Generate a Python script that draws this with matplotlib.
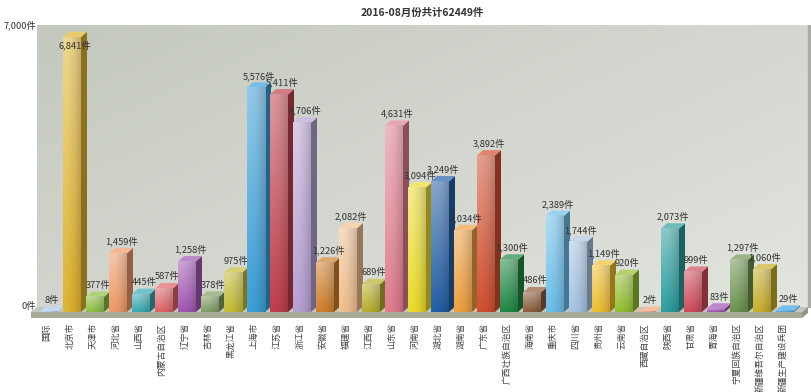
import numpy as np
import matplotlib
matplotlib.use('Agg')
import matplotlib.pyplot as plt
from matplotlib.patches import Polygon, Rectangle
from matplotlib.colors import to_rgb

plt.rcParams['font.family'] = ['Noto Sans CJK SC', 'DejaVu Sans']

# data
title = '2016-08月份共计62449件'
categories = ['国际', '北京市', '天津市', '河北省', '山西省', '内蒙古自治区', '辽宁省', '吉林省',
              '黑龙江省', '上海市', '江苏省', '浙江省', '安徽省', '福建省', '江西省', '山东省',
              '河南省', '湖北省', '湖南省', '广东省', '广西壮族自治区', '海南省', '重庆市', '四川省',
              '贵州省', '云南省', '西藏自治区', '陕西省', '甘肃省', '青海省', '宁夏回族自治区',
              '新疆维吾尔自治区', '新疆生产建设兵团']
values = [8, 6841, 377, 1459, 445, 587, 1258, 378, 975, 5576, 5411, 4706, 1226, 2082, 689,
          4631, 3094, 3249, 2034, 3892, 1300, 486, 2389, 1744, 1149, 920, 2, 2073, 999, 83,
          1297, 1060, 29]
colors = ['#a8c8e8', '#e0b430', '#8cc040', '#f09a68', '#38aab4', '#e06468', '#a458b4', '#7fa062',
          '#c4bc34', '#3c9fd8', '#c0404c', '#b8a2d4', '#d0802c', '#f2c090', '#b8b02c', '#e27e90',
          '#ecdc2c', '#2460a8', '#f0a040', '#d25030', '#208a44', '#8e5c3c', '#6cc0ec', '#a8c4e4',
          '#f0c030', '#94c030', '#f0a07c', '#2ca0a0', '#d24c5c', '#a450b8', '#6e9450', '#c8b02c',
          '#3ca4e4']
y_ticks = [0, 7000]

fig = plt.figure(figsize=(8.12, 3.92), dpi=100)
fig.patch.set_facecolor('white')

# axes geometry: 23 px per category, bar front centre of first bar at px 49
PX = 23.0
x_left, x_right = (20 - 49) / PX, (812 - 49) / PX
ax = fig.add_axes([20 / 812, 74 / 392, 792 / 812, 293 / 392])
ax.set_xlim(x_left, x_right)
ax.set_ylim(-150, 7140)
ax.axis('off')

w = 18 / PX      # bar front width
dx = 6 / PX      # depth offset in x
dy = 135         # depth offset in value units

# back wall gradient
wx0, wx1 = (37 - 49) / PX, (808 - 49) / PX
gy, gx = np.mgrid[0:1:60j, 0:1:120j]
t = 0.55 * gx + 0.45 * gy
c0 = np.array(to_rgb('#c4c9bf'))
c1 = np.array(to_rgb('#e2e4de'))
wall = c0 * (1 - t[..., None]) + c1 * t[..., None]
ax.imshow(wall, extent=(wx0, wx1, dy - 10, 7140), origin='upper', aspect='auto',
          interpolation='bilinear', zorder=0)
ax.add_patch(Rectangle((wx1, dy - 10), 0.12, 7140 - dy, color='#a9aca4', zorder=0.5))

# floor slab
fx0, fx1 = (31 - 49) / PX, (802 - 49) / PX
ax.add_patch(Polygon([(fx0, 0), (fx1, 0), (fx1 + dx, dy - 10), (fx0 + dx, dy - 10)],
                     closed=True, facecolor='#c3c6bb', edgecolor='none', zorder=1))
ax.add_patch(Rectangle((fx0, -150), fx1 - fx0, 150, facecolor='#a6aa98', edgecolor='none', zorder=1))
ax.add_patch(Polygon([(fx1, -150), (fx1 + dx, -150 + dy - 10), (fx1 + dx, dy - 10), (fx1, 0)],
                     closed=True, facecolor='#8f9382', edgecolor='none', zorder=1))

# bars
for i, (v, col) in enumerate(zip(values, colors)):
    base = np.array(to_rgb(col))
    light = base + (1 - base) * 0.45
    dark = base * 0.62
    x0, x1 = i - w / 2, i + w / 2
    z = 2 + i * 0.01
    # side and top faces
    ax.add_patch(Polygon([(x1, 0), (x1 + dx, dy), (x1 + dx, v + dy), (x1, v)],
                         closed=True, facecolor=dark, edgecolor='none', zorder=z))
    ax.add_patch(Polygon([(x0, v), (x1, v), (x1 + dx, v + dy), (x0 + dx, v + dy)],
                         closed=True, facecolor=base + (1 - base) * 0.3, edgecolor='none', zorder=z))
    # front face with gradient
    vy, vx = np.mgrid[0:1:40j, 0:1:12j]
    img = light * (1 - vy[..., None]) + base * vy[..., None]
    img = img * (1 - 0.18 * vx[..., None] ** 2)
    ax.imshow(np.clip(img, 0, 1), extent=(x0, x1, 0, max(v, 1)), origin='upper',
              aspect='auto', interpolation='bilinear', zorder=z + 0.001)
    # value label
    label = f'{v:,}件'
    if v + dy > 6600:
        ax.text(i + dx / 2, v - 80, label, ha='center', va='top', fontsize=6.7,
                color='#333333', zorder=10)
    else:
        ax.text(i + dx / 2, v + dy + 40, label, ha='center', va='bottom', fontsize=6.7,
                color='#333333', zorder=10)
    # category label, reads bottom to top
    ax.text(i - 0.1, -280, categories[i], rotation=90, ha='center', va='top',
            fontsize=6.3, color='#444444')

ax.set_xlim(x_left, x_right)
ax.set_ylim(-150, 7140)

# y tick labels on the back wall
for yt in y_ticks:
    ax.text(wx0 - 0.05, yt + dy - 10, f'{yt:,}件', ha='right', va='center', fontsize=6.7,
            color='#333333')

fig.text(422 / 812, 1 - 13 / 392, title, ha='center', va='center', fontsize=7.5,
         fontweight='bold', color='#333333')

fig.savefig('out.png', dpi=100)
